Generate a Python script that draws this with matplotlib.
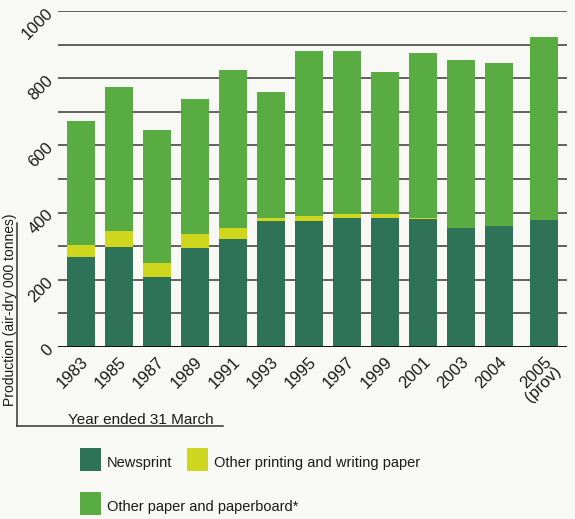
import matplotlib
matplotlib.use("Agg")
import matplotlib.pyplot as plt
from matplotlib import font_manager
from matplotlib.patches import Rectangle
from matplotlib.lines import Line2D
import numpy as np

# narrow face if there is one, otherwise Arial-like metrics
installed = {f.name for f in font_manager.fontManager.ttflist}
face = 'Liberation Sans Narrow' if 'Liberation Sans Narrow' in installed else 'Liberation Sans'
plt.rcParams['font.family'] = [face, 'DejaVu Sans']

# production, air-dry 000 tonnes, year ended 31 March
years = ['1983', '1985', '1987', '1989', '1991', '1993', '1995',
         '1997', '1999', '2001', '2003', '2004', '2005\n(prov)']
newsprint = [268, 298, 208, 295, 321, 375, 375, 384, 384, 381, 354, 360, 378]
printing_writing = [36, 47, 42, 41, 33, 9, 15, 12, 12, 4, 0, 0, 0]
other_paper = [368, 429, 396, 402, 470, 375, 491, 485, 422, 490, 500, 485, 545]

series_names = ['Newsprint', 'Other printing and writing paper',
                'Other paper and paperboard*']
colors = ['#2e7258', '#ced61e', '#58ac42']
bg = '#f8f8f4'
ink = '#1a1a1a'

fig = plt.figure(figsize=(5.75, 5.19), dpi=100, facecolor=bg)
ax = fig.add_axes([58 / 575, 1 - 347 / 519, 509 / 575, 336 / 519])
ax.set_facecolor(bg)

x = np.arange(len(years), dtype=float)
x[-1] += 0.18  # provisional year sits a little apart
width = 0.74

bottom = np.zeros(len(years))
for vals, col in zip([newsprint, printing_writing, other_paper], colors):
    ax.bar(x, vals, width, bottom=bottom, color=col, zorder=3, linewidth=0)
    bottom += np.array(vals)

ax.set_ylim(0, 1000)
ax.set_xlim(-0.605, 12.79)

for v in range(100, 1001, 100):
    ax.axhline(v, color='#606060', lw=1.4, zorder=1)
ax.axhline(0, color='#111111', lw=1.4, zorder=4)

for s in ax.spines.values():
    s.set_visible(False)
ax.tick_params(length=0, pad=5)
ax.set_yticks(range(0, 1001, 200))
ax.set_yticklabels([str(v) for v in range(0, 1001, 200)], rotation=45,
                   fontsize=12, color=ink, rotation_mode='anchor',
                   ha='right', va='center')
ax.set_xticks(x)
ax.set_xticklabels(years, rotation=45, fontsize=12, color=ink,
                   rotation_mode='anchor', ha='right', va='top',
                   linespacing=0.85)

# axis titles with their underlines
fig.text(10 / 575, 1 - 406 / 519, 'Production (air-dry 000 tonnes)',
         rotation=90, ha='center', va='bottom', fontsize=10, color=ink)
fig.text(68 / 575, 1 - 424 / 519, 'Year ended 31 March', ha='left',
         va='baseline', fontsize=11, color=ink)
fig.add_artist(Line2D([17 / 575, 17 / 575], [1 - 223 / 519, 1 - 426 / 519],
                      color='#333333', lw=1.1))
fig.add_artist(Line2D([17 / 575, 223 / 575], [1 - 426 / 519, 1 - 426 / 519],
                      color='#333333', lw=1.1))

# legend
legend_pos = [(80, 448), (187, 448), (80, 492)]
for (px, py), name, col in zip(legend_pos, series_names, colors):
    fig.add_artist(Rectangle((px / 575, 1 - (py + 23) / 519), 21 / 575, 23 / 519,
                             transform=fig.transFigure, color=col, lw=0))
    fig.text((px + 27) / 575, 1 - (py + 15) / 519, name, ha='left',
             va='center', fontsize=10.5, color=ink)

fig.savefig('out.png', dpi=100, facecolor=bg)
